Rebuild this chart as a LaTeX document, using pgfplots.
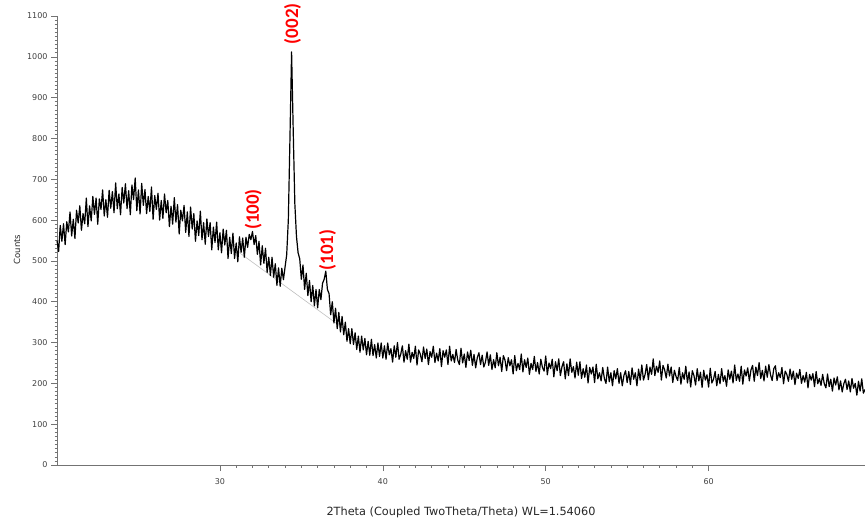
\documentclass[border=0pt]{standalone}
\usepackage{fontspec}
\setmainfont{DejaVu Sans}
\newfontfamily\lblfont{Carlito}
\usepackage{pgfplots}
\usepackage{pgfplotstable}
\pgfplotsset{compat=1.18}
\pgfplotstableread{
x y
20.0 550
20.1 523
20.2 587
20.3 548
20.4 591
20.5 540
20.6 596
20.7 571
20.8 620
20.9 561
21.0 602
21.1 555
21.2 624
21.3 593
21.4 635
21.5 575
21.6 616
21.7 591
21.8 654
21.9 584
22.0 635
22.1 598
22.2 658
22.3 614
22.4 654
22.5 590
22.6 652
22.7 626
22.8 674
22.9 610
23.0 650
23.1 607
23.2 673
23.3 629
23.4 670
23.5 618
23.6 691
23.7 628
23.8 664
23.9 613
24.0 680
24.1 642
24.2 689
24.3 628
24.4 672
24.5 613
24.6 686
24.7 650
24.8 703
24.9 623
25.0 674
25.1 615
25.2 690
25.3 636
25.4 675
25.5 616
25.6 658
25.7 621
25.8 681
25.9 602
26.0 660
26.1 626
26.2 666
26.3 600
26.4 648
26.5 604
26.6 664
26.7 618
26.8 648
26.9 584
27.0 634
27.1 590
27.2 655
27.3 595
27.4 638
27.5 566
27.6 624
27.7 598
27.8 636
27.9 570
28.0 620
28.1 560
28.2 632
28.3 578
28.4 616
28.5 548
28.6 598
28.7 562
28.8 622
28.9 552
29.0 594
29.1 541
29.2 603
29.3 560
29.4 594
29.5 527
29.6 583
29.7 545
29.8 595
29.9 527
30.0 569
30.1 520
30.2 578
30.3 539
30.4 575
30.5 506
30.6 558
30.7 518
30.8 568
30.9 506
31.0 544
31.1 498
31.2 559
31.3 521
31.4 556
31.5 509
31.6 558
31.7 533
31.8 565
31.9 552
32.0 572
32.1 540
32.2 562
32.3 516
32.4 548
32.5 490
32.6 537
32.7 494
32.8 531
32.9 472
33.0 509
33.1 464
33.2 509
33.3 460
33.4 493
33.5 440
33.6 483
33.7 438
33.8 482
33.9 454
34.0 485
34.1 515
34.2 600
34.3 800
34.4 1012
34.5 820
34.6 640
34.7 560
34.8 520
34.9 505
35.0 455
35.1 490
35.2 430
35.3 470
35.4 415
35.5 452
35.6 400
35.7 440
35.8 390
35.9 430
36.0 385
36.1 430
36.2 405
36.3 445
36.4 455
36.5 475
36.6 430
36.7 420
36.8 368
36.9 400
37.0 348
37.1 384
37.2 334
37.3 374
37.4 326
37.5 364
37.6 319
37.7 350
37.8 303
37.9 334
38.0 297
38.1 334
38.2 295
38.3 324
38.4 283
38.5 316
38.6 276
38.7 316
38.8 282
38.9 310
39.0 270
39.1 303
39.2 269
39.3 308
39.4 268
39.5 295
39.6 262
39.7 299
39.8 266
39.9 299
40.0 262
40.1 292
40.2 259
40.3 299
40.4 270
40.5 285
40.6 252
40.7 292
40.8 264
40.9 300
41.0 259
41.1 271
41.2 292
41.3 252
41.4 280
41.5 259
41.6 296
41.7 252
41.8 276
41.9 261
42.0 291
42.1 245
42.2 282
42.3 272
42.4 253
42.5 289
42.6 261
42.7 284
42.8 246
42.9 278
43.0 264
43.1 291
43.2 251
43.3 274
43.4 255
43.5 285
43.6 241
43.7 280
43.8 264
43.9 282
44.0 246
44.1 291
44.2 255
44.3 271
44.4 251
44.5 283
44.6 257
44.7 246
44.8 286
44.9 250
45.0 272
45.1 239
45.2 277
45.3 256
45.4 281
45.5 244
45.6 271
45.7 238
45.8 263
45.9 275
46.0 246
46.1 269
46.2 240
46.3 252
46.4 277
46.5 244
46.6 270
46.7 234
46.8 258
46.9 238
47.0 275
47.1 243
47.2 264
47.3 229
47.4 268
47.5 257
47.6 231
47.7 263
47.8 243
47.9 258
48.0 223
48.1 268
48.2 231
48.3 249
48.4 234
48.5 272
48.6 228
48.7 258
48.8 239
48.9 262
49.0 222
49.1 249
49.2 234
49.3 266
49.4 229
49.5 251
49.6 223
49.7 259
49.8 239
49.9 230
50.0 267
50.1 221
50.2 250
50.3 236
50.4 259
50.5 216
50.6 253
50.7 231
50.8 260
50.9 219
51.0 241
51.1 253
51.2 211
51.3 248
51.4 219
51.5 260
51.6 227
51.7 241
51.8 213
51.9 252
52.0 220
52.1 253
52.2 212
52.3 236
52.4 215
52.5 245
52.6 201
52.7 239
52.8 223
52.9 240
53.0 202
53.1 247
53.2 211
53.3 226
53.4 206
53.5 239
53.6 212
53.7 200
53.8 240
53.9 204
54.0 226
54.1 194
54.2 231
54.3 211
54.4 236
54.5 200
54.6 226
54.7 194
54.8 219
54.9 231
55.0 202
55.1 229
55.2 197
55.3 238
55.4 210
55.5 226
55.6 194
55.7 235
55.8 208
55.9 245
56.0 208
56.1 222
56.2 246
56.3 209
56.4 240
56.5 222
56.6 260
56.7 219
56.8 242
56.9 227
57.0 255
57.1 208
57.2 244
57.3 233
57.4 213
57.5 247
57.6 218
57.7 240
57.8 202
57.9 232
58.0 217
58.1 207
58.2 239
58.3 198
58.4 226
58.5 210
58.6 242
58.7 201
58.8 228
58.9 191
59.0 231
59.1 219
59.2 196
59.3 236
59.4 206
59.5 227
59.6 190
59.7 232
59.8 208
59.9 221
60.0 191
60.1 237
60.2 201
60.3 210
60.4 229
60.5 194
60.6 222
60.7 199
60.8 236
60.9 205
61.0 219
61.1 193
61.2 233
61.3 210
61.4 230
61.5 201
61.6 245
61.7 207
61.8 223
61.9 205
62.0 242
62.1 198
62.2 233
62.3 218
62.4 238
62.5 206
62.6 233
62.7 244
62.8 205
62.9 240
63.0 219
63.1 251
63.2 212
63.3 232
63.4 206
63.5 242
63.6 215
63.7 246
63.8 221
63.9 207
64.0 236
64.1 243
64.2 207
64.3 226
64.4 214
64.5 239
64.6 199
64.7 230
64.8 222
64.9 205
65.0 235
65.1 210
65.2 230
65.3 197
65.4 225
65.5 212
65.6 234
65.7 200
65.8 219
65.9 203
66.0 227
66.1 189
66.2 222
66.3 208
66.4 224
66.5 192
66.6 229
66.7 199
66.8 212
66.9 195
67.0 222
67.1 199
67.2 189
67.3 223
67.4 192
67.5 210
67.6 181
67.7 213
67.8 196
67.9 216
68.0 184
68.1 206
68.2 179
68.3 199
68.4 210
68.5 185
68.6 206
68.7 179
68.8 212
68.9 188
69.0 200
69.1 171
69.2 205
69.3 181
69.4 211
69.5 176
69.6 185
}\xrd
\begin{document}
\begin{tikzpicture}
\useasboundingbox (0,0) rectangle (865pt,528pt);
\begin{axis}[
  at={(57pt,63pt)}, anchor=south west,
  scale only axis, width=808pt, height=449pt,
  xmin=20, xmax=69.6, ymin=0, ymax=1100,
  axis lines=left,
  axis line style={-, draw=black!55, line width=0.8pt},
  clip=false,
  xtick={30,40,50,60},
  ytick={0,100,...,1100},
  minor x tick num=9,
  minor y tick num=9,
  tick align=outside,
  major tick length=6pt,
  minor tick length=2.5pt,
  tick style={draw=black!55, line width=0.6pt},
  every tick label/.append style={font=\fontsize{8}{9}\selectfont, text=black!75},
  xticklabel style={yshift=-4pt},
  /pgf/number format/assume math mode=true,
  /pgf/number format/1000 sep={},
  xlabel={2Theta (Coupled TwoTheta/Theta) WL=1.54060},
  ylabel={Counts},
  xlabel style={at={(axis description cs:0.5,0)}, anchor=center, yshift=-47pt, font=\fontsize{11.3}{13}\selectfont, text=black!85},
  ylabel style={at={(axis description cs:0,0.48)}, anchor=center, yshift=40pt, font=\fontsize{8.5}{10}\selectfont, text=black!85},
]
\addplot [draw=black!25, line width=0.6pt] coordinates {(31.2,520) (37.8,328)};
\addplot [black, line width=1.2pt, line join=round] table [x=x, y=y] {\xrd};
\node [rotate=90, text=red, font=\lblfont\bfseries\fontsize{19}{20}\selectfont, inner sep=0pt] at (axis cs:34.45,1081) {(002)};
\node [rotate=90, text=red, font=\lblfont\bfseries\fontsize{19}{20}\selectfont, inner sep=0pt] at (axis cs:32.05,626) {(100)};
\node [rotate=90, text=red, font=\lblfont\bfseries\fontsize{19}{20}\selectfont, inner sep=0pt] at (axis cs:36.6,527) {(101)};
\end{axis}
\end{tikzpicture}
\end{document}
